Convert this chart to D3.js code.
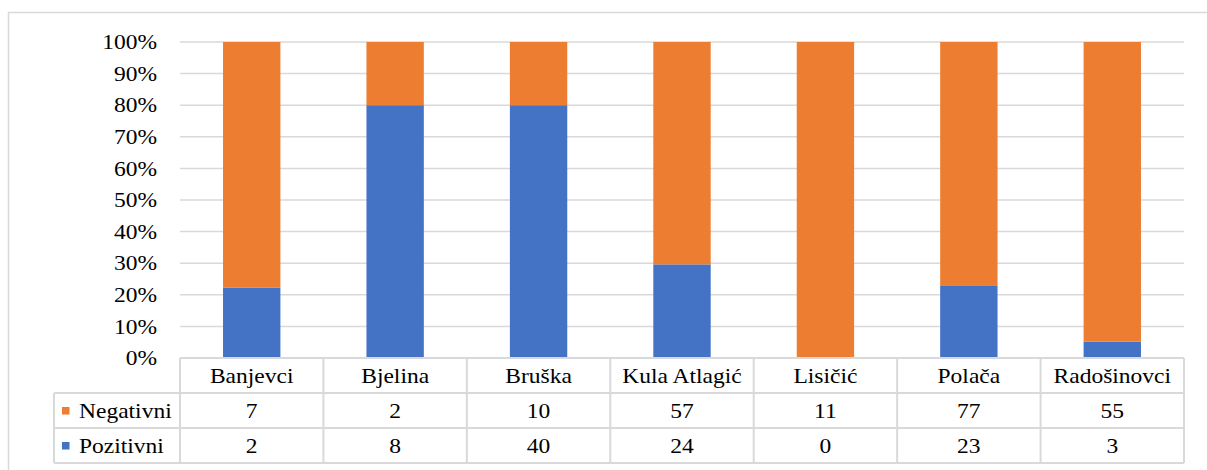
<!DOCTYPE html>
<html><head><meta charset="utf-8">
<script src="https://cdn.jsdelivr.net/npm/d3@7"></script>
</head><body style="margin:0">
<svg id="c" width="1207" height="470" font-family="Liberation Serif"></svg>
<script>
const categories = ["Banjevci","Bjelina","Bruška","Kula Atlagić","Lisičić","Polača","Radošinovci"];
const negativni = [7,2,10,57,11,77,55];
const pozitivni = [2,8,40,24,0,23,3];
const yTicks = [0,0.1,0.2,0.3,0.4,0.5,0.6,0.7,0.8,0.9,1.0];
const seriesNames = ["Negativni","Pozitivni"];
const colors = {Negativni:"#ED7D31", Pozitivni:"#4472C4"};

const svg = d3.select("#c");
const pLeft=180,pRight=1184,pTop=42,pBottom=358;
const grid="#d9d9d9";
const SX=1.12;

svg.append("rect").attr("x",8.5).attr("y",12.5).attr("width",1220).attr("height",480)
  .attr("fill","none").attr("stroke",grid).attr("stroke-width",1.5);

const x = d3.scaleBand().domain(categories).range([pLeft,pRight]).paddingInner(0.6).paddingOuter(0.3);
const xc = d3.scaleBand().domain(categories).range([pLeft,pRight]);
const y = d3.scaleLinear().domain([0,1]).range([pBottom,pTop]);

svg.append("g").selectAll("line").data(yTicks.filter(d=>d>0)).join("line")
  .attr("x1",pLeft).attr("x2",pRight).attr("y1",d=>y(d)).attr("y2",d=>y(d))
  .attr("stroke",grid).attr("stroke-width",1.5);

function txt(sel){ sel.style("font-family","'Liberation Serif'").style("font-size","21px").attr("font-family","Liberation Serif").attr("font-size",21).attr("fill","#000"); }

const yAxis = d3.axisLeft(y).tickValues(yTicks).tickFormat(d3.format(".0%")).tickSize(0).tickPadding(0);
const ga = svg.append("g").attr("transform","translate(157,0)").call(yAxis);
ga.attr("font-family","Liberation Serif").attr("font-size",21);
ga.select(".domain").remove();
ga.selectAll("text").call(txt).attr("x",0).attr("dy","0.32em").attr("transform",`scale(${SX},1)`);

const data = categories.map((c,i)=>{const t=negativni[i]+pozitivni[i];return {cat:c,Pozitivni:pozitivni[i]/t,Negativni:negativni[i]/t};});
const stack = d3.stack().keys(["Pozitivni","Negativni"])(data);
svg.append("g").selectAll("g").data(stack).join("g").attr("fill",d=>colors[d.key])
  .selectAll("rect").data(d=>d).join("rect")
  .attr("x",d=>x(d.data.cat)).attr("width",x.bandwidth())
  .attr("y",d=>y(d[1])).attr("height",d=>y(d[0])-y(d[1]));

const rowH=35;
const tableLeft=54;
const rows=[pBottom,pBottom+rowH,pBottom+2*rowH,pBottom+3*rowH];
const tg=svg.append("g").attr("stroke",grid).attr("stroke-width",2).attr("fill","none");
tg.append("line").attr("x1",pLeft).attr("x2",pRight).attr("y1",rows[0]).attr("y2",rows[0]);
tg.append("line").attr("x1",tableLeft).attr("x2",pRight).attr("y1",rows[1]).attr("y2",rows[1]);
tg.append("line").attr("x1",tableLeft).attr("x2",pRight).attr("y1",rows[2]).attr("y2",rows[2]);
tg.append("line").attr("x1",tableLeft).attr("x2",pRight).attr("y1",rows[3]).attr("y2",rows[3]);
tg.append("line").attr("x1",tableLeft).attr("x2",tableLeft).attr("y1",rows[1]).attr("y2",rows[3]);
const vx=[pLeft].concat(categories.map(c=>xc(c)+xc.bandwidth()));
tg.selectAll("line.v").data(vx).join("line").attr("class","v")
  .attr("x1",d=>d).attr("x2",d=>d).attr("y1",rows[0]).attr("y2",rows[3]);

const place = (px,py) => `translate(${px},${py}) scale(${SX},1)`;

svg.append("g").selectAll("text").data(categories).join("text")
  .attr("transform",d=>place(xc(d)+xc.bandwidth()/2, rows[0]+rowH/2)).attr("dy","0.35em")
  .attr("text-anchor","middle").call(txt).text(d=>d);

const seriesVals={Negativni:negativni,Pozitivni:pozitivni};
seriesNames.forEach((s,ri)=>{
  const cy=rows[ri+1]+rowH/2;
  svg.append("rect").attr("x",62).attr("y",cy-3.5).attr("width",7.5).attr("height",7.5).attr("fill",colors[s]);
  svg.append("text").attr("transform",place(79,cy)).attr("dy","0.35em").call(txt).text(s);
  svg.append("g").selectAll("text").data(seriesVals[s]).join("text")
    .attr("transform",(d,i)=>place(xc(categories[i])+xc.bandwidth()/2, cy)).attr("dy","0.35em")
    .attr("text-anchor","middle").call(txt).text(d=>d);
});
</script>
</body></html>
